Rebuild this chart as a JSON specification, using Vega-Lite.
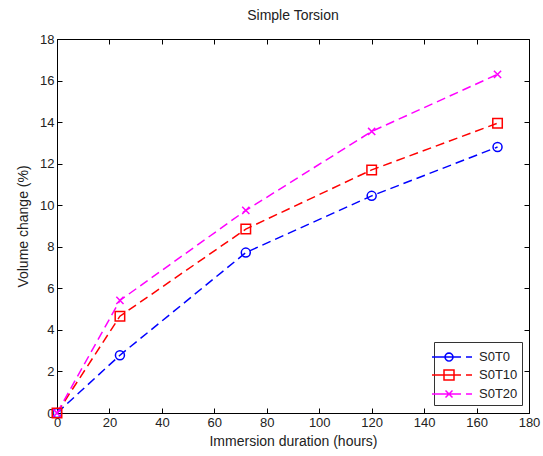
{
  "$schema": "https://vega.github.io/schema/vega-lite/v6.json",
  "autosize": "none",
  "width": 472,
  "height": 374,
  "padding": {"left": 57, "top": 39, "right": 14, "bottom": 43},
  "background": "white",
  "title": {"text": "Simple Torsion", "fontSize": 14, "fontWeight": "normal", "font": "Liberation Sans", "color": "#222", "offset": 10},
  "config": {
    "view": {"stroke": "#000", "strokeWidth": 1},
    "font": "Liberation Sans",
    "legend": {"strokeColor": "#333", "fillColor": "#ffffff"},
    "axis": {"labelFont": "Liberation Sans", "titleFont": "Liberation Sans", "labelFontSize": 13, "titleFontSize": 14, "titleFontWeight": "normal", "labelColor": "#222", "titleColor": "#222", "domainColor": "#000", "tickColor": "#000", "tickSize": -5, "grid": false, "labelPadding": 8, "labelOverlap": false, "labelFlush": false}
  },
  "data": {"values": [
    {"series": "S0T0", "hours": 0, "change": 0},
    {"series": "S0T0", "hours": 24, "change": 2.78},
    {"series": "S0T0", "hours": 72, "change": 7.72},
    {"series": "S0T0", "hours": 120, "change": 10.45},
    {"series": "S0T0", "hours": 168, "change": 12.8},
    {"series": "S0T10", "hours": 0, "change": 0},
    {"series": "S0T10", "hours": 24, "change": 4.66},
    {"series": "S0T10", "hours": 72, "change": 8.85},
    {"series": "S0T10", "hours": 120, "change": 11.7},
    {"series": "S0T10", "hours": 168, "change": 13.95},
    {"series": "S0T20", "hours": 0, "change": 0},
    {"series": "S0T20", "hours": 24, "change": 5.42},
    {"series": "S0T20", "hours": 72, "change": 9.75},
    {"series": "S0T20", "hours": 120, "change": 13.55},
    {"series": "S0T20", "hours": 168, "change": 16.3}
  ]},
  "resolve": {"axis": {"x": "independent", "y": "independent"}},
  "layer": [
    {
      "mark": {"type": "line", "strokeWidth": 1.5, "strokeDash": [9, 5]},
      "encoding": {
        "x": {"field": "hours", "type": "quantitative", "scale": {"domain": [0, 180], "nice": false}, "axis": {"title": "Immersion duration (hours)", "values": [0,20,40,60,80,100,120,140,160,180], "titlePadding": 5}},
        "y": {"field": "change", "type": "quantitative", "scale": {"domain": [0, 18], "nice": false}, "axis": {"title": "Volume change (%)", "values": [0,2,4,6,8,10,12,14,16,18], "titlePadding": 9}},
        "color": {
          "field": "series", "type": "nominal",
          "scale": {"domain": ["S0T0", "S0T10", "S0T20"], "range": ["#0000ff", "#ff0000", "#ff00ff"]},
          "legend": {
            "title": null, "orient": "none", "legendX": 377, "legendY": 303, "direction": "vertical",
            "strokeColor": "#333", "fillColor": "#ffffff", "padding": 4,
            "labelFont": "Liberation Sans", "labelFontSize": 13, "labelColor": "#222",
            "symbolSize": 400, "symbolStrokeWidth": 1.5, "symbolFillColor": "transparent",
            "rowPadding": 0, "labelOffset": 19,
            "encode": {
              "symbols": {"update": {"shape": {"signal": "datum.value === 'S0T0' ? 'M-1.7,0H1.2M1.7,0H2.3M0.4,0L0.37,0.153L0.283,0.283L0.153,0.37L0,0.4L-0.153,0.37L-0.283,0.283L-0.37,0.153L-0.4,0L-0.37,-0.153L-0.283,-0.283L-0.153,-0.37L0,-0.4L0.153,-0.37L0.283,-0.283L0.37,-0.153Z' : datum.value === 'S0T10' ? 'M-1.7,0H1.2M1.7,0H2.3M-0.5,-0.5L0.5,-0.5L0.5,0.5L-0.5,0.5Z' : 'M-1.7,0L1.2,0M1.7,0L2.3,0M-0.35,-0.35L0.35,0.35M-0.35,0.35L0.35,-0.35'"}}}
            }
          }
        }
      }
    },
    {
      "transform": [{"filter": "datum.series === 'S0T0'"}],
      "mark": {"type": "point", "shape": "circle", "filled": false, "strokeWidth": 1.5, "size": 81, "opacity": 1, "color": "#0000ff"},
      "encoding": {
        "x": {"field": "hours", "type": "quantitative", "axis": {"orient": "top", "labels": false, "title": null, "domain": false, "values": [0,20,40,60,80,100,120,140,160,180]}},
        "y": {"field": "change", "type": "quantitative", "axis": {"orient": "right", "labels": false, "title": null, "domain": false, "values": [0,2,4,6,8,10,12,14,16,18]}}
      }
    },
    {
      "transform": [{"filter": "datum.series === 'S0T10'"}],
      "mark": {"type": "point", "shape": "square", "filled": false, "strokeWidth": 1.5, "size": 90, "opacity": 1, "color": "#ff0000"},
      "encoding": {
        "x": {"field": "hours", "type": "quantitative", "axis": null},
        "y": {"field": "change", "type": "quantitative", "axis": null}
      }
    },
    {
      "transform": [{"filter": "datum.series === 'S0T20'"}],
      "mark": {"type": "point", "shape": "M-0.8,-0.8L0.8,0.8M-0.8,0.8L0.8,-0.8", "filled": false, "strokeWidth": 1.5, "size": 81, "opacity": 1, "color": "#ff00ff"},
      "encoding": {
        "x": {"field": "hours", "type": "quantitative", "axis": null},
        "y": {"field": "change", "type": "quantitative", "axis": null}
      }
    }
  ]
}
